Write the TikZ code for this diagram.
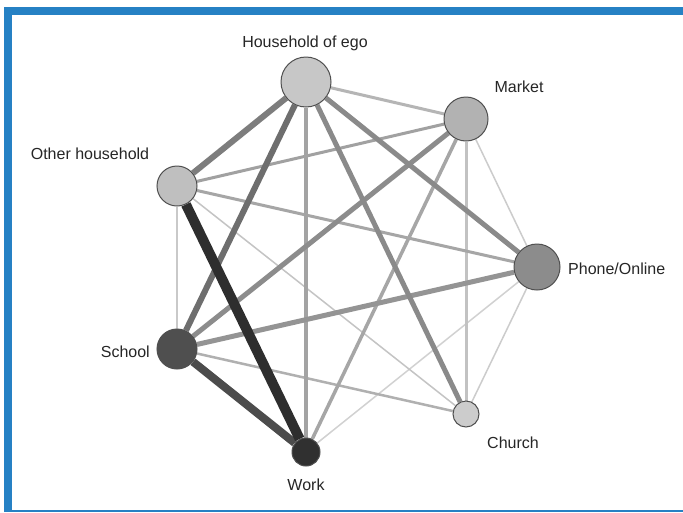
\documentclass[tikz,border=0pt]{standalone}
\usepackage{fontspec}
\setmainfont{Liberation Sans}
\usepackage{xcolor}
\usetikzlibrary{backgrounds}
\definecolor{frameblue}{HTML}{2681C4}
\definecolor{rim}{HTML}{4F4F4F}

\tikzset{
  vert/.style={circle,draw=rim,line width=1pt,inner sep=0pt},
  lbl/.style={inner sep=0pt,anchor=base,font=\fontsize{16}{18}\selectfont,text=black!85},
  tie/.style 2 args={line width=#1pt,draw=black!#2}
}

\begin{document}
\begin{tikzpicture}[x=1pt,y=-1pt]
\useasboundingbox (0,0) rectangle (683,512);
% nodes
\node[vert,minimum size=50pt,fill=black!22] (H) at (306,82) {};
\node[vert,minimum size=44pt,fill=black!30] (M) at (466,119) {};
\node[vert,minimum size=46pt,fill=black!45] (P) at (537,267) {};
\node[vert,minimum size=26pt,fill=black!20] (C) at (466,414) {};
\node[vert,minimum size=28pt,fill=black!81] (W) at (306,452) {};
\node[vert,minimum size=40pt,fill=black!69] (S) at (177,349) {};
\node[vert,minimum size=40pt,fill=black!25] (O) at (177,186) {};
% labels
\node[lbl] (Hl) at (305,47) {Household of ego};
\node[lbl] (Ml) at (519,92) {Market};
\node[lbl,anchor=base west] (Pl) at (568,274) {Phone/Online};
\node[lbl] (Cl) at (513,448) {Church};
\node[lbl] (Wl) at (306,490) {Work};
\node[lbl,anchor=base east] (Sl) at (150,357) {School};
\node[lbl] (Ol) at (90,159) {Other household};
\begin{scope}[on background layer]
% frame
\fill[frameblue] (4,7) rectangle (683,512);
\fill[white] (12,15) rectangle (683,509.5);
% ties, thin first
\draw[tie={1.5}{18}] (P)--(W);
\draw[tie={1.5}{20}] (M)--(P);
\draw[tie={1.5}{20}] (P)--(C);
\draw[tie={1.5}{23}] (C)--(O);
\draw[tie={2.5}{21}] (S)--(O);
\draw[tie={2.5}{31}] (C)--(S);
\draw[tie={3}{24}] (M)--(C);
\draw[tie={3}{29}] (H)--(M);
\draw[tie={3}{35}] (P)--(O);
\draw[tie={3}{37}] (M)--(O);
\draw[tie={3.5}{35}] (M)--(W);
\draw[tie={4}{36}] (H)--(W);
\draw[tie={5}{42}] (P)--(S);
\draw[tie={5}{45}] (M)--(S);
\draw[tie={5}{46}] (H)--(C);
\draw[tie={5}{46}] (H)--(P);
\draw[tie={6}{51}] (H)--(O);
\draw[tie={6}{57}] (H)--(S);
\draw[tie={8}{70}] (S)--(W);
\draw[tie={10}{82}] (O)--(W);
\end{scope}
\end{tikzpicture}
\end{document}
